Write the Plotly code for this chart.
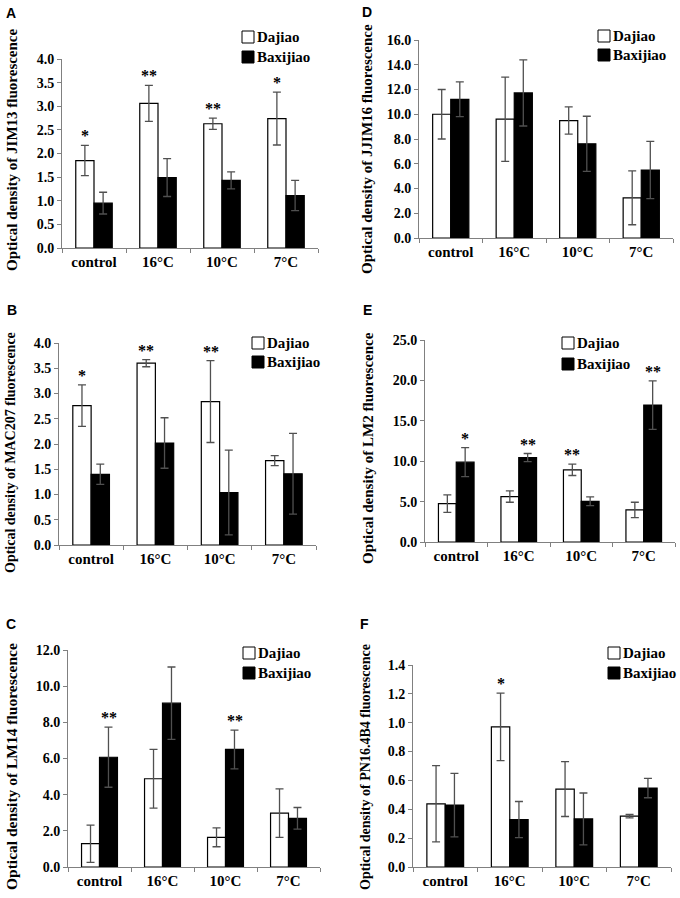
"""
Optical density of cell-wall antibody fluorescence, Dajiao vs Baxijiao, six panels.
"""

import plotly.graph_objects as go


categories = ['control', '16°C', '10°C', '7°C']
series = ['Dajiao', 'Baxijiao']

# A: JIM13
jim13_dajiao = [1.85, 3.06, 2.63, 2.74]
jim13_dajiao_err = [0.32, 0.38, 0.12, 0.56]
jim13_baxijiao = [0.95, 1.49, 1.43, 1.11]
jim13_baxijiao_err = [0.23, 0.40, 0.18, 0.32]
jim13_stars_dajiao = ['*', '**', '**', '*']
jim13_stars_baxijiao = ['', '', '', '']

# B: MAC207
mac207_dajiao = [2.76, 3.60, 2.84, 1.67]
mac207_dajiao_err = [0.41, 0.07, 0.81, 0.10]
mac207_baxijiao = [1.40, 2.02, 1.04, 1.41]
mac207_baxijiao_err = [0.20, 0.50, 0.84, 0.80]
mac207_stars_dajiao = ['*', '**', '**', '']
mac207_stars_baxijiao = ['', '', '', '']

# C: LM14
lm14_dajiao = [1.29, 4.88, 1.64, 2.98]
lm14_dajiao_err = [1.03, 1.62, 0.52, 1.34]
lm14_baxijiao = [6.07, 9.06, 6.50, 2.69]
lm14_baxijiao_err = [1.66, 2.00, 1.07, 0.60]
lm14_stars_dajiao = ['', '', '', '']
lm14_stars_baxijiao = ['**', '', '**', '']

# D: JIM16
jim16_dajiao = [10.0, 9.6, 9.49, 3.25]
jim16_dajiao_err = [2.0, 3.4, 1.1, 2.18]
jim16_baxijiao = [11.21, 11.72, 7.61, 5.49]
jim16_baxijiao_err = [1.4, 2.67, 2.23, 2.31]
jim16_stars_dajiao = ['', '', '', '']
jim16_stars_baxijiao = ['', '', '', '']

# E: LM2
lm2_dajiao = [4.75, 5.62, 8.93, 3.97]
lm2_dajiao_err = [1.08, 0.70, 0.70, 0.95]
lm2_baxijiao = [9.88, 10.45, 5.04, 16.94]
lm2_baxijiao_err = [1.80, 0.50, 0.54, 3.00]
lm2_stars_dajiao = ['', '', '**', '']
lm2_stars_baxijiao = ['*', '**', '', '**']

# F: PN16.4B4
pn_dajiao = [0.438, 0.971, 0.540, 0.352]
pn_dajiao_err = [0.264, 0.234, 0.19, 0.012]
pn_baxijiao = [0.429, 0.329, 0.333, 0.547]
pn_baxijiao_err = [0.22, 0.125, 0.18, 0.067]
pn_stars_dajiao = ['', '*', '', '']
pn_stars_baxijiao = ['', '', '', '']


W, H = 680, 898
SERIF = 'Liberation Serif'
AXIS_GREY = '#808080'
ERR_GREY = '#505050'
FILLS = ['white', 'black']

# letter, antibody, data, y max, dtick, plot box px (x0, x1, ytop, ybottom),
# legend px (box left, first row y, row step), y title px (x, ycenter, size), letter px (x, y)
panels = [
    ('A', 'JIM13', (jim13_dajiao, jim13_dajiao_err, jim13_baxijiao, jim13_baxijiao_err,
                    jim13_stars_dajiao, jim13_stars_baxijiao),
     4.0, 0.5, (62, 318, 59, 248), (242, 37, 20), (12, 150, 15), (11, 13)),
    ('D', 'JJIM16', (jim16_dajiao, jim16_dajiao_err, jim16_baxijiao, jim16_baxijiao_err,
                     jim16_stars_dajiao, jim16_stars_baxijiao),
     16.0, 2.0, (419, 673, 40, 238), (598, 36, 19), (367, 149, 15), (367, 12)),
    ('B', 'MAC207', (mac207_dajiao, mac207_dajiao_err, mac207_baxijiao, mac207_baxijiao_err,
                     mac207_stars_dajiao, mac207_stars_baxijiao),
     4.0, 0.5, (59, 316, 343, 545), (252, 343, 19), (10, 453, 14), (12, 310)),
    ('E', 'LM2', (lm2_dajiao, lm2_dajiao_err, lm2_baxijiao, lm2_baxijiao_err,
                  lm2_stars_dajiao, lm2_stars_baxijiao),
     25.0, 5.0, (425, 675, 340, 542), (562, 343, 21), (368, 448, 15), (367, 310)),
    ('C', 'LM14', (lm14_dajiao, lm14_dajiao_err, lm14_baxijiao, lm14_baxijiao_err,
                   lm14_stars_dajiao, lm14_stars_baxijiao),
     12.0, 2.0, (68, 320, 650, 867), (243, 653, 20), (11, 767, 15.5), (11, 624)),
    ('F', 'PN16.4B4', (pn_dajiao, pn_dajiao_err, pn_baxijiao, pn_baxijiao_err,
                       pn_stars_dajiao, pn_stars_baxijiao),
     1.4, 0.2, (413, 671, 665, 867), (608, 653, 20), (365, 767, 14), (364, 624)),
]


def px_x(x):
    return x / W


def px_y(y):
    return 1 - y / H


def bold(size, family=SERIF):
    return dict(family=family, size=size, color='black', weight='bold')


fig = go.Figure()
annotations = []
shapes = []
layout = {}

for i, (letter, ab, data, ymax, dtick, box, leg, ttl, lab) in enumerate(panels):
    n = '' if i == 0 else str(i + 1)
    xa, ya = 'x' + n, 'y' + n
    dj, dj_err, bx, bx_err, st_dj, st_bx = data

    for name, vals, errs, fill in zip(series, (dj, bx), (dj_err, bx_err), FILLS):
        fig.add_trace(go.Bar(
            x=categories, y=vals, name=name, xaxis=xa, yaxis=ya, showlegend=False,
            marker=dict(color=fill, line=dict(color='black', width=1.2)),
            error_y=dict(type='data', array=errs, color=ERR_GREY, thickness=1.3, width=4),
        ))

    x0, x1, yt, yb = box
    layout['xaxis' + n] = dict(
        domain=[px_x(x0), px_x(x1)], anchor=ya, type='category',
        showline=True, linecolor=AXIS_GREY, linewidth=1,
        ticks='outside', tickson='boundaries', ticklen=4, tickcolor=AXIS_GREY,
        tickfont=bold(15), showgrid=False, zeroline=False, fixedrange=True,
    )
    layout['yaxis' + n] = dict(
        domain=[px_y(yb), px_y(yt)], anchor=xa, range=[0, ymax], dtick=dtick,
        tickformat='.1f', showline=True, linecolor=AXIS_GREY, linewidth=1,
        ticks='outside', ticklen=4, tickcolor=AXIS_GREY,
        tickfont=bold(14), showgrid=False, zeroline=False, fixedrange=True,
    )

    # legend: small squares with the series names right next to them
    lx, ly, step = leg
    for k, (name, fill) in enumerate(zip(series, FILLS)):
        cy = ly + k * step
        shapes.append(dict(type='rect', xref='paper', yref='paper',
                           x0=px_x(lx), x1=px_x(lx + 12), y0=px_y(cy + 6), y1=px_y(cy - 6),
                           fillcolor=fill, line=dict(color='black', width=1)))
        annotations.append(dict(x=px_x(lx + 13), y=px_y(cy), xref='paper', yref='paper',
                                text=name, showarrow=False, xanchor='left', yanchor='middle',
                                font=bold(15)))

    # significance stars above the error bars
    for vals, errs, stars, shift in ((dj, dj_err, st_dj, -9), (bx, bx_err, st_bx, 9)):
        for cat, v, e, s in zip(categories, vals, errs, stars):
            if s:
                annotations.append(dict(x=cat, y=v + e, xref=xa, yref=ya, text=s,
                                        showarrow=False, xshift=shift, yanchor='bottom',
                                        yshift=-1, font=bold(16)))

    annotations.append(dict(x=px_x(ttl[0]), y=px_y(ttl[1]), xref='paper', yref='paper',
                            text='Optical density of %s fluorescence' % ab, textangle=-90,
                            showarrow=False, xanchor='center', yanchor='middle',
                            font=bold(ttl[2])))
    annotations.append(dict(x=px_x(lab[0]), y=px_y(lab[1]), xref='paper', yref='paper',
                            text=letter, showarrow=False, xanchor='center', yanchor='middle',
                            font=bold(14, 'Liberation Sans')))

fig.update_layout(
    width=W, height=H, margin=dict(l=0, r=0, t=0, b=0, autoexpand=False),
    paper_bgcolor='white', plot_bgcolor='white',
    barmode='group', bargap=0.43, bargroupgap=0, showlegend=False,
    annotations=annotations, shapes=shapes, **layout,
)
# drop the default 8px page margin so the figure fills the window exactly
fig.write_html('out.html', config={'displayModeBar': False},
               post_script="document.body.style.margin='0px';")
